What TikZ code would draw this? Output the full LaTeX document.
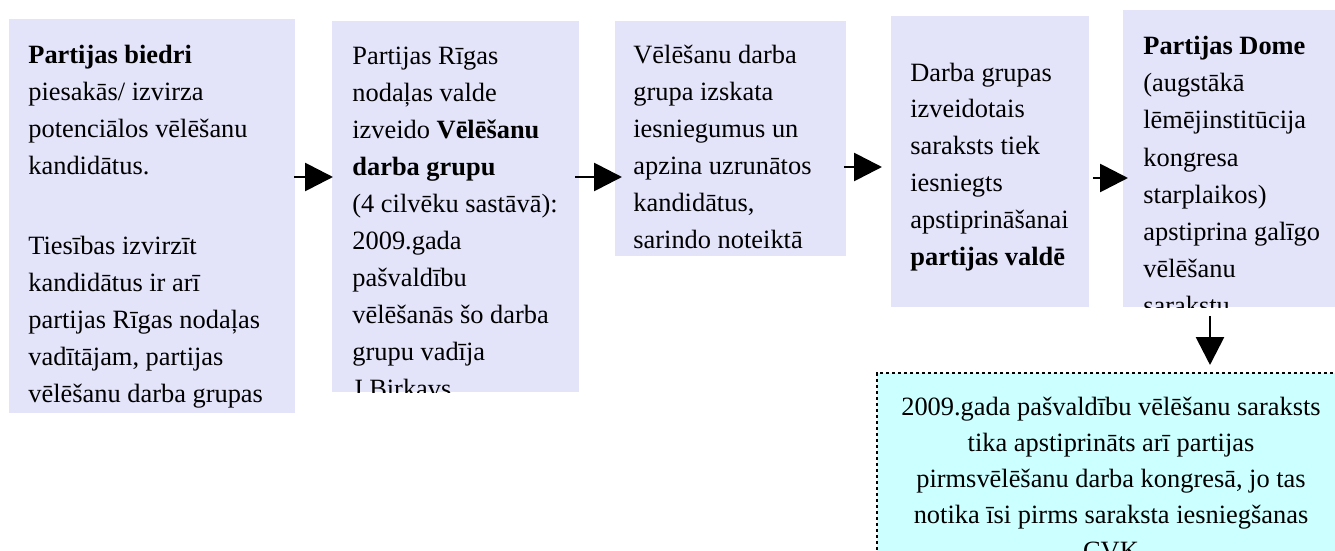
\documentclass[tikz,border=0pt]{standalone}
\usepackage{fontspec}
\setmainfont{Liberation Serif}
\usetikzlibrary{arrows.meta}
\definecolor{mlavender}{RGB}{227,227,250}
\definecolor{mcyan}{RGB}{204,255,255}
\tikzset{box/.style = {fill=mlavender, inner sep = 0, anchor=north west}}
\tikzset{txt/.style = {inner sep = 0, anchor=north west, align=left, font=\fontsize{13.2}{18.5}\selectfont}}
\tikzset{arr/.style = {line width=1.4pt, -{Triangle[length=14pt,width=14pt]}}}

\begin{document}
\begin{tikzpicture}[x=0.5pt, y=-0.5pt]
      \clip (0, 0) rectangle (1335, 551);
      \node [box, minimum width=143pt, minimum height=197pt] (b1) at (9, 19) {};
      \node [box, minimum width=123.5pt, minimum height=185.5pt] (b2) at (332, 21) {};
      \node [box, minimum width=115.5pt, minimum height=117.5pt] (b3) at (615, 21) {};
      \node [box, minimum width=99pt, minimum height=145.5pt] (b4) at (891, 16) {};
      \node [box, minimum width=106pt, minimum height=148.5pt] (b5) at (1123, 10) {};
      \node [box, fill=mcyan, minimum width=240pt, minimum height=100pt] (b6) at (877, 373) {};
      \draw [line width=1pt, dash pattern=on 1.5pt off 1.5pt] (b6.south west) -- (b6.north west) -- (b6.north east);
      \begin{scope}
        \clip (b1.north west) rectangle (b1.south east);
        \node [txt] (t1) at (28, 37) {\strut\textbf{Partijas biedri}\\ piesakās/ izvirza\\ potenciālos vēlēšanu\\ kandidātus.\\[21.5pt] Tiesības izvirzīt\\ kandidātus ir arī\\ partijas Rīgas nodaļas\\ vadītājam, partijas\\ vēlēšanu darba grupas};
      \end{scope}
      \begin{scope}
        \clip (b2.north west) rectangle (b2.south east);
        \node [txt] (t2) at (352, 38) {\strut Partijas Rīgas\\ nodaļas valde\\ izveido \textbf{Vēlēšanu}\\ \textbf{darba grupu}\\ (4 cilvēku sastāvā):\\ 2009.gada\\ pašvaldību\\ vēlēšanās šo darba\\ grupu vadīja\\ J.Birkavs};
      \end{scope}
      \begin{scope}
        \clip (b3.north west) rectangle (b3.south east);
        \node [txt] (t3) at (633, 37) {\strut Vēlēšanu darba\\ grupa izskata\\ iesniegumus un\\ apzina uzrunātos\\ kandidātus,\\ sarindo noteiktā};
      \end{scope}
      \begin{scope}
        \clip (b4.north west) rectangle (b4.south east);
        \node [txt, font=\fontsize{13.2}{18.4}\selectfont] (t4) at (910, 55) {\strut Darba grupas\\ izveidotais\\ saraksts tiek\\ iesniegts\\ apstiprināšanai\\ \textbf{partijas valdē}};
      \end{scope}
      \begin{scope}
        \clip (b5.north west) rectangle (b5.south east);
        \node [txt, font=\fontsize{13.2}{18.6}\selectfont] (t5) at (1143, 28) {\strut\textbf{Partijas Dome}\\ (augstākā\\ lēmējinstitūcija\\ kongresa\\ starplaikos)\\ apstiprina galīgo\\ vēlēšanu\\ sarakstu};
      \end{scope}
      \begin{scope}
        \clip (b6.north west) rectangle (b6.south east);
        \node [txt, anchor=north, align=center, font=\fontsize{13.2}{18}\selectfont] (t6) at (1111, 390) {\strut 2009.gada pašvaldību vēlēšanu saraksts\\ tika apstiprināts arī partijas\\ pirmsvēlēšanu darba kongresā, jo tas\\ notika īsi pirms saraksta iesniegšanas\\ CVK};
      \end{scope}
      \draw [arr] ([xshift=-1pt]b1.east |- 0, 177) -- ([xshift=0.5pt]b2.west |- 0, 177);
      \draw [arr] ([xshift=-2.5pt]b2.east |- 0, 177) -- ([xshift=3.5pt]b3.west |- 0, 177);
      \draw [arr] ([xshift=-1.5pt]b3.east |- 0, 167) -- ([xshift=-4.5pt]b4.west |- 0, 167);
      \draw [arr] ([xshift=1.5pt]b4.east |- 0, 178) -- ([xshift=2.5pt]b5.west |- 0, 178);
      \draw [arr] ([yshift=-4pt]b5.south -| 1210, 0) -- ([yshift=4pt]b6.north -| 1210, 0);
    \end{tikzpicture}
\end{document}
